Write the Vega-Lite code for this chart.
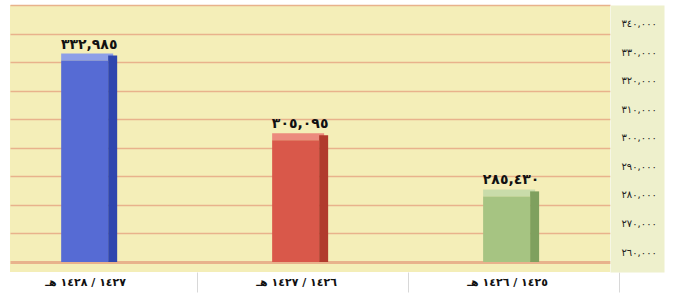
{
  "$schema": "https://vega.github.io/schema/vega-lite/v6.json",
  "width": 600,
  "height": 267,
  "autosize": {"type": "none"},
  "padding": {"left": 10, "top": 5, "right": 65, "bottom": 26},
  "background": "#ffffff",
  "config": {"view": {"fill": "#f4eeb8", "stroke": null}, "font": "DejaVu Sans"},
  "data": {
    "values": [
      {"period": "١٤٢٧ / ١٤٢٨ هـ", "students": 332985, "label": "٣٣٢,٩٨٥"},
      {"period": "١٤٢٦ / ١٤٢٧ هـ", "students": 305095, "label": "٣٠٥,٠٩٥"},
      {"period": "١٤٢٥ / ١٤٢٦ هـ", "students": 285430, "label": "٢٨٥,٤٣٠"}
    ]
  },
  "encoding": {
    "x": {
      "field": "period",
      "type": "nominal",
      "sort": null,
      "scale": {"paddingInner": 0.74, "paddingOuter": 0.292, "align": 0.42},
      "axis": {
        "title": null,
        "labelAngle": 0,
        "labelFontSize": 11,
        "labelFontWeight": "bold",
        "labelColor": "#111111",
        "labelPadding": -16,
        "labelOffset": -112,
        "domain": false,
        "tickOffset": 108,
        "tickColor": "#d8d8d8",
        "tickSize": 20
      }
    }
  },
  "layer": [
    {
      "mark": {"type": "bar", "width": 52, "xOffset": -2, "y2Offset": 7},
      "encoding": {
        "y": {
          "field": "students",
          "type": "quantitative",
          "scale": {"domain": [256500, 350000], "zero": false, "nice": false},
          "axis": {
            "orient": "right",
            "title": null,
            "grid": false,
            "ticks": false,
            "labels": false,
            "domain": true,
            "domainColor": "#eef0cc",
            "domainWidth": 54,
            "offset": 27
          }
        },
        "y2": {"field": "students"},
        "color": {
          "field": "period",
          "type": "nominal",
          "sort": null,
          "legend": null,
          "scale": {"range": ["#8e9fe8", "#ec8a7e", "#c9dcaa"]}
        }
      }
    },
    {
      "mark": {"type": "bar", "width": 47, "xOffset": -4.5, "yOffset": 7},
      "encoding": {
        "y": {"field": "students", "type": "quantitative", "axis": null},
        "y2": {"datum": 260000},
        "color": {
          "field": "period",
          "type": "nominal",
          "sort": null,
          "legend": null,
          "scale": {"range": ["#566bd4", "#d9584a", "#a6c482"]}
        }
      }
    },
    {
      "mark": {"type": "bar", "width": 9, "xOffset": 23.5, "yOffset": 2},
      "encoding": {
        "y": {"field": "students", "type": "quantitative", "axis": null},
        "y2": {"datum": 260000},
        "color": {
          "field": "period",
          "type": "nominal",
          "sort": null,
          "legend": null,
          "scale": {"range": ["#2f46ae", "#b13a2d", "#7fa05e"]}
        }
      }
    },
    {
      "mark": {"type": "text", "fontSize": 14, "fontWeight": "bold", "baseline": "bottom", "dy": -2, "color": "#111111"},
      "encoding": {
        "y": {
          "field": "students",
          "type": "quantitative",
          "axis": {
            "orient": "right",
            "title": null,
            "values": [260000, 270000, 280000, 290000, 300000, 310000, 320000, 330000, 340000, 350000],
            "grid": true,
            "gridColor": "#e8b28c",
            "gridOpacity": 1,
            "gridWidth": {"condition": {"test": "datum.value === 260000", "value": 3}, "value": 1.5},
            "ticks": false,
            "tickSize": 0,
            "labelOverlap": false,
            "domain": false,
            "offset": 0,
            "labelPadding": 11,
            "labelAlign": "left",
            "labelOffset": -10,
            "labelFontSize": 10,
            "labelColor": "#222222",
            "labelExpr": "datum.value > 345000 ? '' : replace(replace(replace(replace(replace(replace(replace(replace(replace(replace(format(datum.value, ','), regexp('0','g'), '٠'), regexp('1','g'), '١'), regexp('2','g'), '٢'), regexp('3','g'), '٣'), regexp('4','g'), '٤'), regexp('5','g'), '٥'), regexp('6','g'), '٦'), regexp('7','g'), '٧'), regexp('8','g'), '٨'), regexp('9','g'), '٩')"
          }
        },
        "text": {"field": "label"}
      }
    }
  ],
  "resolve": {"scale": {"color": "independent"}, "axis": {"y": "independent"}}
}
